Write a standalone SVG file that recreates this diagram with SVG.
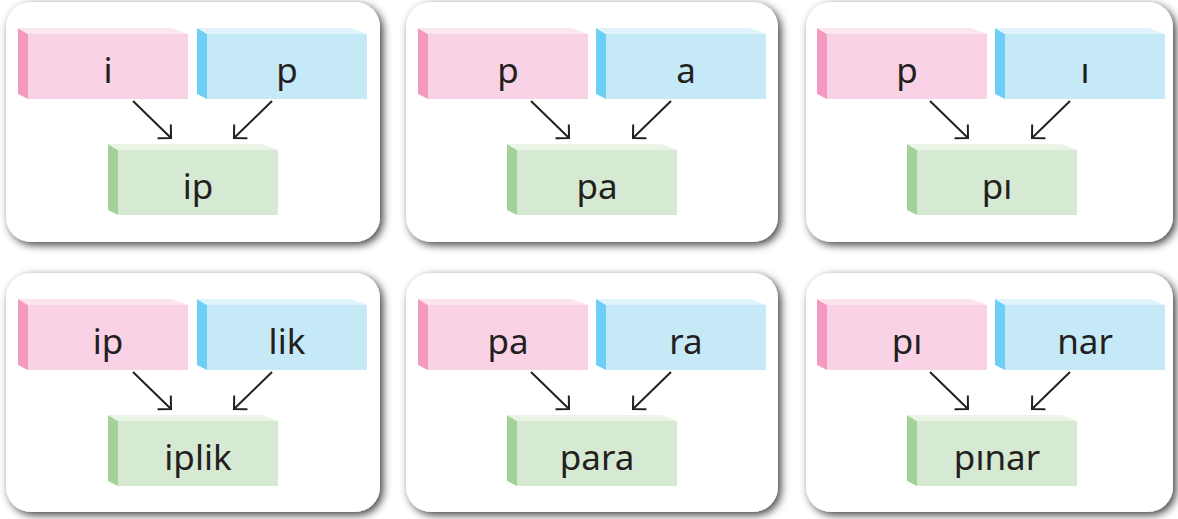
<svg xmlns="http://www.w3.org/2000/svg" width="1178" height="519" viewBox="0 0 1178 519">
<style>
.card{fill:#ffffff;filter:url(#sh)}
.pk .s{fill:#f49ac1}.pk .t{fill:#fde5ef}.pk .f{fill:#f9d3e5}
.bl .s{fill:#6dcff6}.bl .t{fill:#def3fc}.bl .f{fill:#c6e9f8}
.gr .s{fill:#a4d19a}.gr .t{fill:#e9f4e7}.gr .f{fill:#d6e9d3}
text{font-family:"Noto Sans","DejaVu Sans",sans-serif;font-size:35px;fill:#231f20;text-anchor:middle}
.conn line{stroke:#231f20;stroke-width:2;fill:none;marker-end:url(#ah)}
</style>
<defs>
<filter id="sh" x="-5%" y="-5%" width="112%" height="116%">
<feDropShadow dx="3" dy="3" stdDeviation="4" flood-color="#000" flood-opacity="0.75"/>
</filter>
<marker id="ah" markerUnits="userSpaceOnUse" markerWidth="24" markerHeight="24" viewBox="-12 -12 24 24" refX="0" refY="0" orient="auto">
<path d="M-9.5,-9.5 L0,0 L-9.5,9.5" fill="none" stroke="#231f20" stroke-width="2"/>
</marker>
</defs>
<rect width="1178" height="519" fill="#ffffff"/>
<g id="cards">
<rect class="card" x="6" y="2" width="374" height="240" rx="25"/>
<rect class="card" x="406" y="2" width="372" height="240" rx="25"/>
<rect class="card" x="806" y="2" width="367" height="240" rx="25"/>
<rect class="card" x="6" y="273" width="374" height="239" rx="25"/>
<rect class="card" x="406" y="273" width="372" height="239" rx="25"/>
<rect class="card" x="806" y="273" width="367" height="239" rx="25"/>
</g>
<g id="n1a" class="pk" transform="translate(18,28)"><polygon class="s" points="0,0 10,6 10,71 0,66"/><polygon class="t" points="0,0 154,0 170,6 10,6"/><rect class="f" x="10" y="6" width="160" height="65"/><text x="90" y="55">i</text></g>
<g id="n1b" class="bl" transform="translate(197,28)"><polygon class="s" points="0,0 10,6 10,71 0,66"/><polygon class="t" points="0,0 154,0 170,6 10,6"/><rect class="f" x="10" y="6" width="160" height="65"/><text x="90" y="55">p</text></g>
<g id="n1c" class="gr" transform="translate(108,144)"><polygon class="s" points="0,0 10,6 10,71 0,66"/><polygon class="t" points="0,0 154,0 170,6 10,6"/><rect class="f" x="10" y="6" width="160" height="65"/><text x="90" y="55">ip</text></g>
<g id="n2a" class="pk" transform="translate(418,28)"><polygon class="s" points="0,0 10,6 10,71 0,66"/><polygon class="t" points="0,0 154,0 170,6 10,6"/><rect class="f" x="10" y="6" width="160" height="65"/><text x="90" y="55">p</text></g>
<g id="n2b" class="bl" transform="translate(596,28)"><polygon class="s" points="0,0 10,6 10,71 0,66"/><polygon class="t" points="0,0 154,0 170,6 10,6"/><rect class="f" x="10" y="6" width="160" height="65"/><text x="90" y="55">a</text></g>
<g id="n2c" class="gr" transform="translate(507,144)"><polygon class="s" points="0,0 10,6 10,71 0,66"/><polygon class="t" points="0,0 154,0 170,6 10,6"/><rect class="f" x="10" y="6" width="160" height="65"/><text x="90" y="55">pa</text></g>
<g id="n3a" class="pk" transform="translate(817,28)"><polygon class="s" points="0,0 10,6 10,71 0,66"/><polygon class="t" points="0,0 154,0 170,6 10,6"/><rect class="f" x="10" y="6" width="160" height="65"/><text x="90" y="55">p</text></g>
<g id="n3b" class="bl" transform="translate(995,28)"><polygon class="s" points="0,0 10,6 10,71 0,66"/><polygon class="t" points="0,0 154,0 170,6 10,6"/><rect class="f" x="10" y="6" width="160" height="65"/><text x="90" y="55">ı</text></g>
<g id="n3c" class="gr" transform="translate(907,144)"><polygon class="s" points="0,0 10,6 10,71 0,66"/><polygon class="t" points="0,0 154,0 170,6 10,6"/><rect class="f" x="10" y="6" width="160" height="65"/><text x="90" y="55">pı</text></g>
<g id="n4a" class="pk" transform="translate(18,299)"><polygon class="s" points="0,0 10,6 10,71 0,66"/><polygon class="t" points="0,0 154,0 170,6 10,6"/><rect class="f" x="10" y="6" width="160" height="65"/><text x="90" y="55">ip</text></g>
<g id="n4b" class="bl" transform="translate(197,299)"><polygon class="s" points="0,0 10,6 10,71 0,66"/><polygon class="t" points="0,0 154,0 170,6 10,6"/><rect class="f" x="10" y="6" width="160" height="65"/><text x="90" y="55">lik</text></g>
<g id="n4c" class="gr" transform="translate(108,415)"><polygon class="s" points="0,0 10,6 10,71 0,66"/><polygon class="t" points="0,0 154,0 170,6 10,6"/><rect class="f" x="10" y="6" width="160" height="65"/><text x="90" y="55">iplik</text></g>
<g id="n5a" class="pk" transform="translate(418,299)"><polygon class="s" points="0,0 10,6 10,71 0,66"/><polygon class="t" points="0,0 154,0 170,6 10,6"/><rect class="f" x="10" y="6" width="160" height="65"/><text x="90" y="55">pa</text></g>
<g id="n5b" class="bl" transform="translate(596,299)"><polygon class="s" points="0,0 10,6 10,71 0,66"/><polygon class="t" points="0,0 154,0 170,6 10,6"/><rect class="f" x="10" y="6" width="160" height="65"/><text x="90" y="55">ra</text></g>
<g id="n5c" class="gr" transform="translate(507,415)"><polygon class="s" points="0,0 10,6 10,71 0,66"/><polygon class="t" points="0,0 154,0 170,6 10,6"/><rect class="f" x="10" y="6" width="160" height="65"/><text x="90" y="55">para</text></g>
<g id="n6a" class="pk" transform="translate(817,299)"><polygon class="s" points="0,0 10,6 10,71 0,66"/><polygon class="t" points="0,0 154,0 170,6 10,6"/><rect class="f" x="10" y="6" width="160" height="65"/><text x="90" y="55">pı</text></g>
<g id="n6b" class="bl" transform="translate(995,299)"><polygon class="s" points="0,0 10,6 10,71 0,66"/><polygon class="t" points="0,0 154,0 170,6 10,6"/><rect class="f" x="10" y="6" width="160" height="65"/><text x="90" y="55">nar</text></g>
<g id="n6c" class="gr" transform="translate(907,415)"><polygon class="s" points="0,0 10,6 10,71 0,66"/><polygon class="t" points="0,0 154,0 170,6 10,6"/><rect class="f" x="10" y="6" width="160" height="65"/><text x="90" y="55">pınar</text></g>
<g id="connectors" class="conn">
<line x1="133" y1="101" x2="171" y2="138"/>
<line x1="272" y1="101" x2="234" y2="138"/>
<line x1="531" y1="101" x2="569" y2="138"/>
<line x1="671" y1="101" x2="633" y2="138"/>
<line x1="930" y1="101" x2="968" y2="138"/>
<line x1="1070" y1="101" x2="1032" y2="138"/>
<line x1="133" y1="372" x2="171" y2="409"/>
<line x1="272" y1="372" x2="234" y2="409"/>
<line x1="531" y1="372" x2="569" y2="409"/>
<line x1="671" y1="372" x2="633" y2="409"/>
<line x1="930" y1="372" x2="968" y2="409"/>
<line x1="1070" y1="372" x2="1032" y2="409"/>
</g>
</svg>
